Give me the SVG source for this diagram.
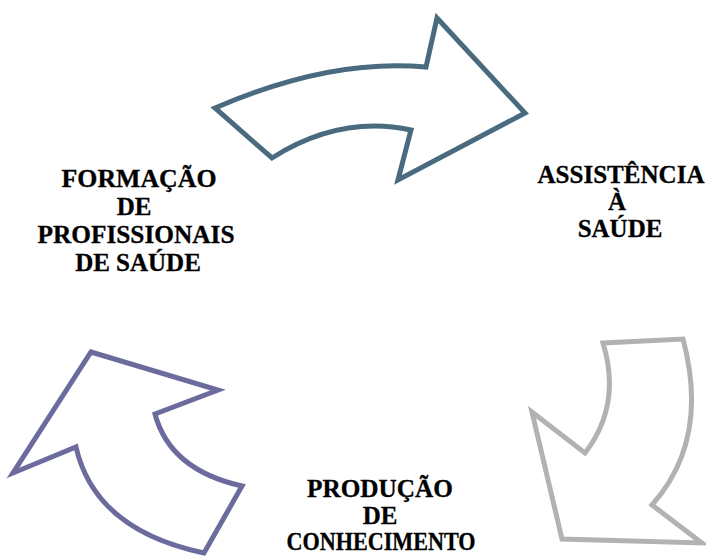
<svg xmlns="http://www.w3.org/2000/svg" width="706" height="556" viewBox="0 0 706 556">
<style>
.arrow{fill:#ffffff;stroke-width:5;stroke-linejoin:miter;stroke-miterlimit:10}
.lbl{font-family:"Liberation Serif","Times New Roman",serif;font-weight:bold;font-size:25px;fill:#000;stroke:#000;stroke-width:0.3;text-anchor:middle}
</style>
<rect width="706" height="556" fill="#ffffff"/>
<g id="connectors">
<path id="arrow-top" class="arrow" stroke="#4A6A7F" d="M215,108 Q330,58 426,67 L437,18 L525,113 L398,180 L411,130 Q340,115 272,158 Z"/>
<path id="arrow-right" class="arrow" stroke="#B2B2B2" d="M603,343 L683,339 Q710,440 652,505 L702,543 L562,539 L532,412 L585,453 Q622,405 603,343 Z"/>
<path id="arrow-left" class="arrow" stroke="#6B6B9E" d="M91,352 L218,390 L155,414 Q170,470 242,486 L204,553 Q95,530 76,447 L13,473 Z"/>
</g>
<g id="node-formacao">
<text class="lbl" x="139" y="187" textLength="155" lengthAdjust="spacingAndGlyphs">FORMAÇÃO</text>
<text class="lbl" x="134" y="215">DE</text>
<text class="lbl" x="136" y="243" textLength="197" lengthAdjust="spacingAndGlyphs">PROFISSIONAIS</text>
<text class="lbl" x="138" y="271">DE SAÚDE</text>
</g>
<g id="node-assistencia">
<text class="lbl" x="621" y="183" textLength="167" lengthAdjust="spacingAndGlyphs">ASSISTÊNCIA</text>
<text class="lbl" x="617" y="210">À</text>
<text class="lbl" x="620" y="237">SAÚDE</text>
</g>
<g id="node-producao">
<text class="lbl" x="380" y="497" textLength="146" lengthAdjust="spacingAndGlyphs">PRODUÇÃO</text>
<text class="lbl" x="380" y="524">DE</text>
<text class="lbl" x="381" y="550" textLength="189" lengthAdjust="spacingAndGlyphs">CONHECIMENTO</text>
</g>
</svg>
